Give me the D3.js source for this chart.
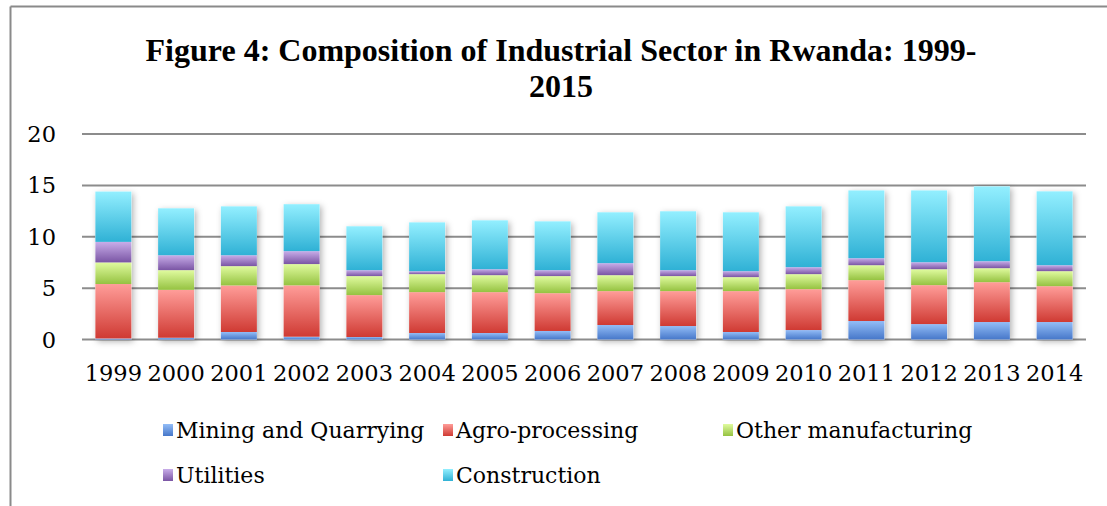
<!DOCTYPE html>
<html>
<head>
<meta charset="utf-8">
<script src="https://cdn.jsdelivr.net/npm/d3@7"></script>
<style>
  body { margin: 0; background: #fff; }
  svg { display: block; }
  .tick-label { font-family: "DejaVu Serif", serif; font-size: 22.5px; fill: #000; }
  .legend-label { font-family: "DejaVu Serif", serif; font-size: 22px; fill: #000; }
  .title { font-family: "Liberation Serif", "Times New Roman", serif; font-weight: bold; font-size: 32px; fill: #000; }
</style>
</head>
<body>
<div id="chart"></div>
<script>
// data
const years = ["1999","2000","2001","2002","2003","2004","2005","2006","2007","2008","2009","2010","2011","2012","2013","2014"];
const mining =   [0.1, 0.17, 0.73, 0.27, 0.24, 0.63, 0.63, 0.83, 1.41, 1.31, 0.73, 0.92, 1.8, 1.5, 1.7, 1.7];
const agro =     [5.3, 4.66, 4.53, 5.0, 4.08, 3.98, 3.98, 3.68, 3.3, 3.4, 3.98, 3.98, 3.98, 3.79, 3.88, 3.49];
const otherMan = [2.1, 1.92, 1.88, 2.07, 1.85, 1.75, 1.65, 1.66, 1.55, 1.46, 1.36, 1.46, 1.45, 1.55, 1.36, 1.46];
const utilities =[2.0, 1.45, 1.06, 1.26, 0.58, 0.29, 0.58, 0.58, 1.17, 0.58, 0.58, 0.68, 0.68, 0.68, 0.68, 0.58];
const construction = [4.9, 4.57, 4.76, 4.57, 4.27, 4.75, 4.76, 4.75, 4.95, 5.73, 5.73, 5.92, 6.6, 6.99, 7.28, 7.19];
const yTicks = [0, 5, 10, 15, 20];

const seriesNames = ["Mining and Quarrying", "Agro-processing", "Other manufacturing", "Utilities", "Construction"];
const seriesKeys = ["mining", "agro", "other", "util", "cons"];
// gradient stops: light top, dark bottom
const gradColors = {
    mining: ["#93bdf7", "#4677c9"],
    agro: ["#ff9d99", "#cf3a33"],
    other: ["#e0fb9f", "#95c241"],
    util: ["#c8ade9", "#7a55a4"],
    cons: ["#93efff", "#2fb1d5"]
};

let w = 1107, h = 506;

let svg = d3.select("#chart").append("svg")
    .attr("width", w)
    .attr("height", h);

let defs = svg.append("defs");
seriesKeys.forEach(k => {
    let g = defs.append("linearGradient")
        .attr("id", "grad-" + k)
        .attr("x1", 0).attr("y1", 0).attr("x2", 0).attr("y2", 1);
    g.append("stop").attr("offset", "0%").attr("stop-color", gradColors[k][0]);
    g.append("stop").attr("offset", "100%").attr("stop-color", gradColors[k][1]);
});
let shadow = defs.append("filter").attr("id", "shadow")
    .attr("x", "-30%").attr("y", "-10%").attr("width", "160%").attr("height", "120%");
shadow.append("feDropShadow")
    .attr("dx", 2).attr("dy", 2).attr("stdDeviation", 3)
    .attr("flood-color", "#000").attr("flood-opacity", 0.3);

// frame (top and left edge visible)
svg.append("line").attr("x1", 10.5).attr("y1", 6.5).attr("x2", w).attr("y2", 6.5)
    .attr("stroke", "#8a8a8a").attr("stroke-width", 2);
svg.append("line").attr("x1", 10.5).attr("y1", 6.5).attr("x2", 10.5).attr("y2", h)
    .attr("stroke", "#8a8a8a").attr("stroke-width", 2);

// title
svg.append("text").attr("class", "title")
    .attr("x", 561).attr("y", 61).attr("text-anchor", "middle")
    .text("Figure 4: Composition of Industrial Sector in Rwanda: 1999-");
svg.append("text").attr("class", "title")
    .attr("x", 561).attr("y", 97).attr("text-anchor", "middle")
    .text("2015");

let x = d3.scaleBand()
    .domain(years)
    .range([82, 1086])
    .paddingInner(0.426)
    .paddingOuter(0.213);

let y = d3.scaleLinear()
    .domain([0, 20])
    .range([339.5, 134]);

// gridlines
svg.append("g").selectAll("line")
    .data(yTicks)
    .enter().append("line")
    .attr("x1", 82).attr("x2", 1086)
    .attr("y1", d => y(d)).attr("y2", d => y(d))
    .attr("stroke", "#8c8c8c").attr("stroke-width", 2);

// y tick labels
svg.append("g").selectAll("text")
    .data(yTicks)
    .enter().append("text")
    .attr("class", "tick-label")
    .attr("x", 56)
    .attr("y", d => y(d))
    .attr("dy", "0.36em")
    .attr("text-anchor", "end")
    .text(d => d);

// x labels
svg.append("g").selectAll("text")
    .data(years)
    .enter().append("text")
    .attr("class", "tick-label")
    .attr("x", d => x(d) + x.bandwidth() / 2)
    .attr("y", 381)
    .attr("text-anchor", "middle")
    .text(d => d);

// stacked bars
let rows = years.map((yr, i) => ({
    year: yr,
    mining: mining[i],
    agro: agro[i],
    other: otherMan[i],
    util: utilities[i],
    cons: construction[i]
}));
let stacked = d3.stack().keys(seriesKeys)(rows);

let barLayer = svg.append("g");
// shadows behind whole bars
barLayer.selectAll("rect.bg")
    .data(rows)
    .enter().append("rect")
    .attr("class", "bg")
    .attr("x", d => x(d.year))
    .attr("width", x.bandwidth())
    .attr("y", d => y(seriesKeys.reduce((s, k) => s + d[k], 0)))
    .attr("height", d => y(0) - y(seriesKeys.reduce((s, k) => s + d[k], 0)))
    .attr("fill", "#fff")
    .attr("filter", "url(#shadow)");

barLayer.selectAll("g.series")
    .data(stacked)
    .enter().append("g")
    .attr("class", "series")
    .attr("fill", d => "url(#grad-" + d.key + ")")
    .selectAll("rect")
    .data(d => d)
    .enter().append("rect")
    .attr("x", d => x(d.data.year))
    .attr("width", x.bandwidth())
    .attr("y", d => y(d[1]))
    .attr("height", d => y(d[0]) - y(d[1]));

// legend
let legendPos = [
    { x: 163, y: 430 }, { x: 443, y: 430 }, { x: 723, y: 430 },
    { x: 163, y: 475 }, { x: 443, y: 475 }
];
let legend = svg.append("g").selectAll("g")
    .data(seriesKeys)
    .enter().append("g")
    .attr("transform", (d, i) => `translate(${legendPos[i].x},${legendPos[i].y})`);
legend.append("rect")
    .attr("x", 0).attr("y", -6)
    .attr("width", 10).attr("height", 12)
    .attr("fill", d => "url(#grad-" + d + ")");
legend.append("text")
    .attr("class", "legend-label")
    .attr("x", 13)
    .attr("dy", "0.36em")
    .text((d, i) => seriesNames[i]);
</script>
</body>
</html>
